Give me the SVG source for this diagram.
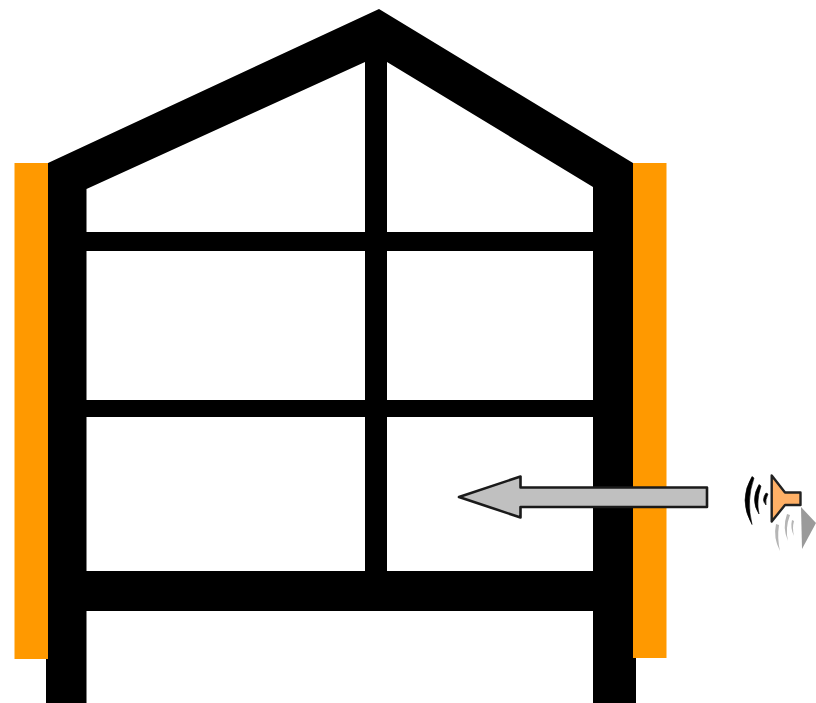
<svg xmlns="http://www.w3.org/2000/svg" width="816" height="703" viewBox="0 0 816 703">
<defs>
<style>
.ins{fill:#ff9900}
.frame{fill:#000}
.wave{fill:#000;stroke:#000;stroke-width:.6;stroke-linejoin:round}
.ghost{fill:#b5b5b5}
</style>
<filter id="soft" x="-10%" y="-10%" width="120%" height="120%"><feGaussianBlur stdDeviation="0.7"/></filter>
<filter id="edge" x="-2%" y="-2%" width="104%" height="104%"><feGaussianBlur stdDeviation="0.45"/></filter>
</defs>
<rect width="816" height="703" fill="#fff"/>
<g id="insulation-left"><rect class="ins" x="14.500" y="163" width="34" height="496"/></g>
<g id="insulation-right"><rect class="ins" x="633" y="163" width="33.500" height="495"/></g>
<g id="frame" filter="url(#edge)">
<path class="frame" fill-rule="evenodd" d="M48 163L379 9L633 163V658H636V703H593V611H86.500V703H46V659H48ZM86.500 189V232H365V62ZM387 62V232H593V187ZM86.500 251V400H365V251ZM387 251V400H593V251ZM86.500 417V571H365V417ZM387 417V571H593V417Z"/>
</g>
<g id="connectors">
<path id="sound-arrow" d="M459 497L520.500 476.500V487.500H707V507H520.500V517.500Z" fill="#c0c0c0" stroke="#1a1a1a" stroke-width="2.600" stroke-linejoin="round"/>
</g>
<g id="speaker" filter="url(#soft)">
<g id="speaker-reflection">
<path d="M801 507L816 523L802 549Z" fill="#9a9a9a"/>
<path class="ghost" d="M776 524Q773 538 780 551Q777 538 779 525Z"/>
<path class="ghost" d="M787 514Q782 528 788 541Q785 528 790 515Z"/>
<path class="ghost" d="M792 520Q790 528 794 536Q792 528 794 521Z"/>
</g>
<path d="M771.700 475.500L785 492.500H800.500V505H785L771.700 521.500Z" fill="#ffb066" stroke="#222" stroke-width="2.400" stroke-linejoin="round"/>
<path class="wave" d="M752 476.500Q738 500 752 524.500Q746 500 754 478Z"/>
<path class="wave" d="M759 484.500Q750 500 759 514Q756 500 761 486Z"/>
<path class="wave" d="M766 493Q761 500 766 505Q765 500 768 494Z"/>
</g>
</svg>
